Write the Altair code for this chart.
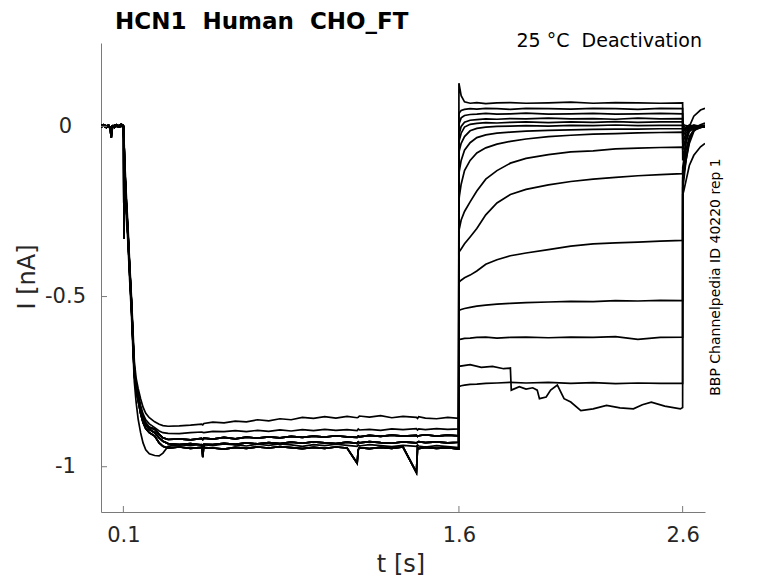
import altair as alt
import pandas as pd

# ---------------- data ----------------
x_ticks = [0.1, 1.6, 2.6]
y_ticks = [-1.0, -0.5, 0.0]

t_hold = [0.0, 0.012, 0.024, 0.034, 0.041, 0.046, 0.051, 0.06, 0.07, 0.08, 0.09, 0.099]
hold_a = [0.003, 0.005, 0.001, 0.004, -0.008, -0.033, -0.004, 0.003, 0.005, 0.001, 0.006, 0.003]
hold_b = [-0.001, 0.001, -0.003, 0.002, -0.002, -0.004, 0.001, -0.003, 0.002, -0.002, 0.001, 0.0]

t_act = [0.1, 0.103, 0.106, 0.113, 0.121, 0.128, 0.136, 0.143, 0.149, 0.157, 0.166, 0.177,
         0.188, 0.2, 0.216, 0.24, 0.26, 0.277, 0.3, 0.35, 0.4, 0.45, 0.455, 0.46, 0.5, 0.55,
         0.6, 0.65, 0.7, 0.75, 0.8, 0.85, 0.9, 0.95, 1.0, 1.05, 1.1, 1.145, 1.15, 1.155, 1.2,
         1.25, 1.3, 1.35, 1.41, 1.415, 1.42, 1.45, 1.5, 1.55, 1.599]

act_up = [0.0, -0.04, -0.1, -0.2, -0.3, -0.4, -0.5, -0.6, -0.69, -0.74, -0.77, -0.8, -0.825, -0.843, -0.856,
          -0.868, -0.875, -0.879, -0.881, -0.88, -0.878, -0.875, -0.877, -0.873, -0.869, -0.871, -0.866,
          -0.868, -0.862, -0.865, -0.859, -0.862, -0.855, -0.858, -0.853, -0.857, -0.852, -0.856, -0.855,
          -0.851, -0.854, -0.85, -0.856, -0.852, -0.855, -0.858, -0.853, -0.857, -0.859, -0.855, -0.858]
act_2 = [0.0, -0.05, -0.12, -0.22, -0.315, -0.41, -0.51, -0.62, -0.71, -0.755, -0.785, -0.82, -0.845, -0.862, -0.874,
         -0.885, -0.895, -0.9, -0.902, -0.903, -0.9, -0.898, -0.899, -0.9, -0.896, -0.897, -0.894, -0.897,
         -0.893, -0.896, -0.892, -0.895, -0.891, -0.894, -0.89, -0.893, -0.891, -0.894, -0.889, -0.892,
         -0.89, -0.893, -0.889, -0.891, -0.888, -0.892, -0.889, -0.891, -0.888, -0.89, -0.889]
act_3 = [0.0, -0.33, -0.13, -0.23, -0.325, -0.42, -0.52, -0.63, -0.72, -0.765, -0.795, -0.83, -0.855, -0.872, -0.884,
         -0.89, -0.905, -0.915, -0.92, -0.918, -0.921, -0.917, -0.92, -0.916, -0.919, -0.914, -0.918,
         -0.913, -0.916, -0.912, -0.915, -0.911, -0.914, -0.91, -0.913, -0.909, -0.912, -0.914, -0.91,
         -0.912, -0.908, -0.911, -0.907, -0.91, -0.908, -0.911, -0.909, -0.906, -0.91, -0.907, -0.909]
act_4 = [0.0, -0.05, -0.12, -0.22, -0.32, -0.415, -0.515, -0.625, -0.715, -0.762, -0.792, -0.83, -0.858, -0.877, -0.89,
         -0.9, -0.915, -0.925, -0.932, -0.935, -0.932, -0.936, -0.972, -0.934, -0.935, -0.931, -0.934,
         -0.93, -0.933, -0.929, -0.932, -0.928, -0.931, -0.927, -0.93, -0.932, -0.928, -0.931, -0.927,
         -0.93, -0.926, -0.929, -0.931, -0.927, -0.93, -0.928, -0.926, -0.929, -0.927, -0.93, -0.928]
act_5 = [0.0, -0.05, -0.13, -0.23, -0.33, -0.43, -0.53, -0.64, -0.73, -0.775, -0.805, -0.843, -0.87, -0.888, -0.9,
         -0.91, -0.93, -0.94, -0.945, -0.942, -0.946, -0.943, -0.947, -0.944, -0.945, -0.948, -0.943,
         -0.946, -0.942, -0.945, -0.941, -0.944, -0.947, -0.943, -0.946, -0.942, -0.945, -0.99, -0.95,
         -0.944, -0.947, -0.943, -0.946, -0.942, -1.017, -0.944, -0.947, -0.943, -0.946, -0.944, -0.948]
act_dip = [0.0, -0.06, -0.14, -0.25, -0.35, -0.45, -0.55, -0.66, -0.75, -0.81, -0.86, -0.9, -0.93, -0.95, -0.962,
           -0.967, -0.968, -0.96, -0.94, -0.935, -0.938, -0.934, -0.937, -0.935, -0.938, -0.933, -0.936,
           -0.939, -0.934, -0.937, -0.933, -0.936, -0.94, -0.935, -0.938, -0.934, -0.937, -0.94, -0.936,
           -0.939, -0.935, -0.938, -0.941, -0.937, -0.94, -0.936, -0.939, -0.942, -0.938, -0.941, -0.944]

t_tail = [1.6, 1.602, 1.61, 1.625, 1.65, 1.68, 1.72, 1.77, 1.83, 1.9, 2.0, 2.1, 2.2, 2.3, 2.4, 2.5, 2.6]
tail_1 = [0.127, 0.12, 0.09, 0.072, 0.068, 0.07, 0.067, 0.069, 0.07, 0.068, 0.069, 0.071, 0.068, 0.07, 0.069, 0.068, 0.069]
tail_2 = [0.035, 0.04, 0.047, 0.05, 0.052, 0.051, 0.053, 0.052, 0.05, 0.053, 0.052, 0.051, 0.053, 0.052, 0.05, 0.053, 0.052]
tail_3 = [0.0, 0.01, 0.025, 0.032, 0.035, 0.036, 0.038, 0.036, 0.037, 0.039, 0.036, 0.037, 0.038, 0.036, 0.037, 0.038, 0.037]
tail_4 = [-0.03, -0.02, 0.0, 0.012, 0.018, 0.02, 0.022, 0.021, 0.023, 0.022, 0.024, 0.022, 0.023, 0.021, 0.024, 0.022, 0.023]
tail_5 = [-0.05, -0.04, -0.02, -0.002, 0.006, 0.009, 0.011, 0.01, 0.012, 0.013, 0.011, 0.013, 0.012, 0.014, 0.012, 0.013, 0.013]
tail_6 = [-0.08, -0.07, -0.05, -0.03, -0.013, -0.006, -0.002, 0.0, 0.001, 0.002, 0.001, 0.003, 0.002, 0.004, 0.002, 0.003, 0.003]
tail_7 = [-0.139, -0.13, -0.1, -0.07, -0.048, -0.033, -0.025, -0.02, -0.017, -0.014, -0.012, -0.01, -0.009, -0.008, -0.008, -0.007, -0.007]
tail_8 = [-0.218, -0.205, -0.17, -0.13, -0.1, -0.078, -0.063, -0.052, -0.044, -0.037, -0.03, -0.026, -0.023, -0.021, -0.019, -0.018, -0.017]
tail_9 = [-0.306, -0.3, -0.275, -0.25, -0.222, -0.19, -0.155, -0.13, -0.108, -0.094, -0.083, -0.075, -0.072, -0.066, -0.064, -0.062, -0.061]
tail_10 = [-0.37, -0.368, -0.36, -0.345, -0.325, -0.3, -0.26, -0.225, -0.2, -0.185, -0.172, -0.162, -0.155, -0.15, -0.145, -0.142, -0.139]
tail_11 = [-0.458, -0.457, -0.452, -0.445, -0.437, -0.425, -0.405, -0.392, -0.38, -0.372, -0.362, -0.352, -0.345, -0.342, -0.34, -0.337, -0.335]
tail_12 = [-0.541, -0.54, -0.538, -0.535, -0.532, -0.528, -0.525, -0.522, -0.52, -0.518, -0.516, -0.514, -0.515, -0.512, -0.513, -0.511, -0.512]
tail_13 = [-0.627, -0.626, -0.625, -0.623, -0.622, -0.62, -0.619, -0.622, -0.62, -0.619, -0.621, -0.619, -0.62, -0.618, -0.626, -0.62, -0.619]
tail_14 = [-0.765, -0.764, -0.762, -0.76, -0.758, -0.757, -0.755, -0.754, -0.752, -0.754, -0.752, -0.755, -0.753, -0.756, -0.754, -0.755, -0.755]

t_drop = [1.6, 1.65, 1.7, 1.75, 1.8, 1.83, 1.834, 1.87, 1.9, 1.93, 1.95, 1.96, 1.99, 2.01, 2.04,
          2.07, 2.1, 2.145, 2.2, 2.26, 2.32, 2.38, 2.42, 2.46, 2.52, 2.59, 2.6]
tail_15 = [-0.705, -0.7, -0.708, -0.705, -0.712, -0.71, -0.775, -0.765, -0.772, -0.768, -0.775, -0.8, -0.795,
           -0.775, -0.76, -0.8, -0.81, -0.835, -0.83, -0.82, -0.827, -0.83, -0.818, -0.81, -0.822, -0.83, -0.826]

t_ret = [2.6005, 2.605, 2.615, 2.63, 2.65, 2.68, 2.7]
ret_vals = [
    [0.01, 0.005, 0.002, 0.0, 0.003, -0.002, 0.0],
    [0.005, 0.0, -0.004, 0.002, -0.003, 0.001, -0.002],
    [-0.005, -0.008, -0.003, 0.004, 0.0, 0.003, 0.002],
    [-0.01, -0.012, -0.006, 0.0, -0.004, 0.002, -0.001],
    [-0.02, -0.015, -0.008, -0.002, 0.004, 0.0, 0.003],
    [-0.03, -0.025, -0.012, -0.005, 0.0, -0.003, 0.001],
    [-0.05, -0.04, -0.02, -0.006, 0.002, 0.0, -0.002],
    [-0.07, -0.06, -0.03, -0.01, -0.002, 0.003, 0.0],
    [-0.1, -0.085, -0.045, -0.015, -0.005, 0.0, 0.002],
    [-0.13, -0.115, -0.07, -0.03, -0.01, -0.004, 0.0],
    [-0.15, -0.14, -0.1, -0.05, -0.015, 0.005, 0.01],
    [-0.2, -0.19, -0.16, -0.115, -0.085, -0.06, -0.05],
    [-0.12, -0.1, -0.05, 0.0, 0.03, 0.048, 0.053],
    [-0.16, -0.14, -0.09, -0.04, -0.01, 0.0, 0.002],
    [-0.18, -0.16, -0.1, -0.04, -0.012, -0.003, 0.0],
]

holds = [hold_a, hold_b, hold_b, hold_a, hold_b, hold_b, hold_a, hold_b, hold_b, hold_a, hold_b, hold_b, hold_a, hold_b, hold_b]
acts = [act_3, act_4, act_5, act_3, act_4, act_5, act_2, act_3, act_4, act_5, act_dip, act_3, act_4, act_up, act_5]
tails = [(t_tail, tail_1), (t_tail, tail_2), (t_tail, tail_3), (t_tail, tail_4), (t_tail, tail_5),
         (t_tail, tail_6), (t_tail, tail_7), (t_tail, tail_8), (t_tail, tail_9), (t_tail, tail_10),
         (t_tail, tail_11), (t_tail, tail_12), (t_tail, tail_13), (t_tail, tail_14), (t_drop, tail_15)]

rows = []
for k in range(15):
    n = 0
    segs = [(t_hold, holds[k]), (t_act, acts[k]), tails[k], (t_ret, ret_vals[k])]
    for ts, vs in segs:
        for t, v in zip(ts, vs):
            rows.append({"t": t, "I": v, "trace": k, "n": n})
            n += 1
df = pd.DataFrame(rows)

# ---------------- chart ----------------
W, H = 604, 469
axis_col = "#7a7a7a"
txt_col = "#262626"
font = "DejaVu Sans"

x_scale = alt.Scale(domain=[0.0, 2.7], nice=False, zero=False)
y_scale = alt.Scale(domain=[-1.133, 0.245], nice=False, zero=False)
x_axis = alt.Axis(values=x_ticks, title=None, labelExpr="toString(datum.value)",
                  labelPadding=23, labelBaseline="middle", ticks=False, grid=False)
y_axis = alt.Axis(values=y_ticks, title=None, labelExpr="toString(datum.value)",
                  labelPadding=36, labelAlign="center", labelBaseline="middle", ticks=False, grid=False)

lines = alt.Chart(df).mark_line(color="black", strokeWidth=1.7, clip=True).encode(
    x=alt.X("t:Q", scale=x_scale, axis=x_axis),
    y=alt.Y("I:Q", scale=y_scale, axis=y_axis),
    detail="trace:N",
    order="n:Q",
)

xt = alt.Chart(pd.DataFrame({"t": x_ticks})).mark_rule(color=axis_col, strokeWidth=1).encode(
    x=alt.X("t:Q", scale=x_scale, axis=x_axis),
    y=alt.value(H), y2=alt.value(H - 6),
)
yt = alt.Chart(pd.DataFrame({"I": y_ticks})).mark_rule(color=axis_col, strokeWidth=1).encode(
    y=alt.Y("I:Q", scale=y_scale, axis=y_axis),
    x=alt.value(0), x2=alt.value(6),
)


def label(text, x, y, size, **kw):
    return alt.Chart(pd.DataFrame({"s": [text]})).mark_text(
        font=font, fontSize=size, color=kw.pop("color", txt_col), **kw
    ).encode(text="s:N", x=alt.value(x), y=alt.value(y))


NB = "\u00a0"
title = label("HCN1" + NB + NB + "Human" + NB + NB + "CHO_FT", 14, -14, 23,
              fontWeight="bold", align="left", baseline="alphabetic", color="black")
cond = label("25 °C" + NB + NB + "Deactivation", 601, 4, 19, align="right", baseline="alphabetic", color="black")
side = label("BBP Channelpedia ID 40220 rep 1", 615, 234, 14, angle=270, align="center",
             baseline="middle", color="black")
xtitle = label("t [s]", 300, 522, 24, align="center", baseline="middle")
ytitle = label("I [nA]", -73, 234, 24, angle=270, align="center", baseline="middle")

chart = alt.layer(lines, xt, yt, title, cond, side, xtitle, ytitle).properties(
    width=W, height=H,
    autosize=alt.AutoSizeParams(type="none"),
    padding={"left": 93, "top": 35, "right": 60, "bottom": 70},
).configure_view(stroke=None).configure_axis(
    domainColor=axis_col, domainWidth=1, labelFont=font, labelFontSize=21, labelColor=txt_col,
)

chart.save("out.html", embed_options={"renderer": "svg", "actions": False})
